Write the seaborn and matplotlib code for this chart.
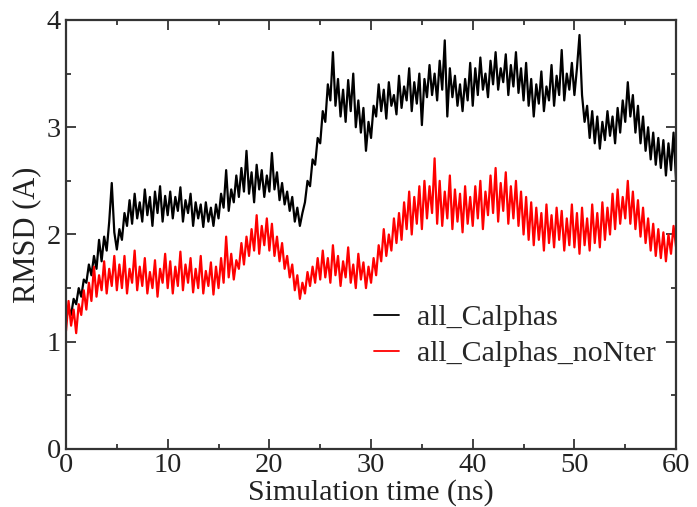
import numpy as np
import pandas as pd
import matplotlib
matplotlib.use("Agg")
import matplotlib.pyplot as plt
import seaborn as sns
from matplotlib.ticker import MultipleLocator

# time axis (ns), one reading every 0.25 ns
time_ns = [i * 0.25 for i in range(241)]

all_calphas = [
    1.20, 1.32, 1.25, 1.40, 1.35, 1.50, 1.42, 1.58, 1.55, 1.72, 1.62, 1.80, 1.68, 1.95, 1.75, 1.98, 1.85, 2.12, 2.48, 2.02,
    1.86, 2.05, 1.95, 2.20, 2.08, 2.32, 2.10, 2.38, 2.15, 2.30, 2.12, 2.42, 2.18, 2.35, 2.08, 2.40, 2.20, 2.45, 2.12, 2.36,
    2.18, 2.40, 2.15, 2.35, 2.22, 2.44, 2.12, 2.32, 2.20, 2.38, 2.08, 2.30, 2.15, 2.28, 2.07, 2.30, 2.12, 2.25, 2.08, 2.28,
    2.15, 2.38, 2.25, 2.60, 2.22, 2.42, 2.30, 2.55, 2.35, 2.62, 2.40, 2.78, 2.38, 2.58, 2.30, 2.65, 2.42, 2.60, 2.35, 2.55,
    2.40, 2.76, 2.42, 2.58, 2.32, 2.48, 2.28, 2.40, 2.22, 2.35, 2.12, 2.25, 2.08, 2.20, 2.30, 2.50, 2.45, 2.70, 2.65, 2.90,
    2.85, 3.15, 3.05, 3.40, 3.25, 3.70, 3.20, 3.45, 3.10, 3.35, 3.05, 3.44, 3.15, 3.50, 3.00, 3.25, 2.95, 3.18, 2.78, 3.05,
    2.90, 3.20, 3.10, 3.40, 3.15, 3.35, 3.08, 3.42, 3.20, 3.30, 3.12, 3.48, 3.18, 3.38, 3.25, 3.55, 3.15, 3.42, 3.22, 3.50,
    3.02, 3.45, 3.28, 3.58, 3.30, 3.50, 3.25, 3.62, 3.35, 3.81, 3.10, 3.55, 3.28, 3.48, 3.20, 3.40, 3.15, 3.45, 3.25, 3.60,
    3.20, 3.55, 3.30, 3.65, 3.35, 3.50, 3.28, 3.62, 3.40, 3.70, 3.35, 3.55, 3.42, 3.68, 3.30, 3.58, 3.38, 3.70, 3.32, 3.55,
    3.25, 3.60, 3.20, 3.45, 3.10, 3.40, 3.22, 3.52, 3.15, 3.38, 3.25, 3.58, 3.20, 3.48, 3.30, 3.72, 3.25, 3.50, 3.35, 3.60,
    3.30, 3.55, 3.86, 3.30, 3.05, 3.20, 2.90, 3.15, 2.85, 3.10, 2.80, 3.05, 2.88, 3.15, 2.92, 3.10, 2.85, 3.18, 2.95, 3.25,
    3.05, 3.42, 3.10, 3.30, 2.95, 3.20, 2.85, 3.10, 2.78, 3.00, 2.70, 2.95, 2.65, 2.90, 2.62, 2.88, 2.55, 2.85, 2.60, 2.95,
    2.50,
]

all_calphas_nonter = [
    1.10, 1.38, 1.15, 1.30, 1.08, 1.35, 1.25, 1.48, 1.30, 1.55, 1.38, 1.70, 1.42, 1.62, 1.48, 1.75, 1.45, 1.68, 1.52, 1.80,
    1.48, 1.72, 1.50, 1.80, 1.45, 1.68, 1.55, 1.85, 1.48, 1.70, 1.52, 1.78, 1.45, 1.65, 1.50, 1.76, 1.42, 1.68, 1.55, 1.82,
    1.50, 1.75, 1.45, 1.70, 1.52, 1.84, 1.48, 1.72, 1.55, 1.78, 1.46, 1.68, 1.50, 1.80, 1.45, 1.66, 1.52, 1.74, 1.44, 1.70,
    1.50, 1.78, 1.55, 1.98, 1.60, 1.82, 1.58, 1.76, 1.68, 1.92, 1.72, 1.98, 1.80, 2.05, 1.85, 2.18, 1.82, 2.08, 1.90, 2.15,
    1.85, 2.10, 1.80, 1.98, 1.75, 1.92, 1.68, 1.80, 1.60, 1.72, 1.48, 1.62, 1.40, 1.55, 1.45, 1.65, 1.52, 1.70, 1.55, 1.78,
    1.58, 1.85, 1.60, 1.78, 1.55, 1.90, 1.62, 1.80, 1.52, 1.75, 1.60, 1.88, 1.55, 1.72, 1.50, 1.82, 1.58, 1.74, 1.50, 1.70,
    1.55, 1.78, 1.62, 1.90, 1.75, 2.05, 1.80, 2.00, 1.85, 2.15, 1.92, 2.20, 1.95, 2.30, 2.05, 2.40, 2.00, 2.35, 2.10, 2.45,
    2.05, 2.50, 2.15, 2.45, 2.20, 2.71, 2.10, 2.50, 2.08, 2.40, 2.15, 2.55, 2.05, 2.42, 2.12, 2.38, 2.02, 2.45, 2.10, 2.35,
    2.08, 2.45, 2.15, 2.50, 2.05, 2.40, 2.18, 2.55, 2.20, 2.62, 2.12, 2.48, 2.22, 2.58, 2.10, 2.45, 2.15, 2.50, 2.08, 2.40,
    2.00, 2.35, 1.95, 2.30, 1.90, 2.25, 1.95, 2.20, 1.85, 2.28, 1.92, 2.18, 1.88, 2.25, 1.95, 2.22, 1.85, 2.15, 1.90, 2.28,
    1.88, 2.20, 1.82, 2.25, 1.90, 2.15, 1.85, 2.28, 1.92, 2.20, 1.88, 2.30, 1.95, 2.25, 2.00, 2.38, 2.05, 2.42, 2.10, 2.35,
    2.15, 2.50, 2.10, 2.40, 2.05, 2.32, 1.98, 2.25, 1.92, 2.15, 1.85, 2.10, 1.80, 2.05, 1.78, 2.02, 1.75, 2.00, 1.82, 2.08,
    1.88,
]

series_names = ["all_Calphas", "all_Calphas_noNter"]
series_colors = ["#000000", "#ff0000"]
x_ticks = [0, 10, 20, 30, 40, 50, 60]
y_ticks = [0, 1, 2, 3, 4]

df = pd.concat([
    pd.DataFrame({"time": time_ns, "rmsd": all_calphas, "series": series_names[0]}),
    pd.DataFrame({"time": time_ns, "rmsd": all_calphas_nonter, "series": series_names[1]}),
], ignore_index=True)

sns.set_style("white")
plt.rcParams["font.family"] = ["Liberation Serif", "DejaVu Serif"]

fig = plt.figure(figsize=(6.97, 5.07), dpi=100)
ax = fig.add_axes([0.0947, 0.1144, 0.8753, 0.8462])

sns.lineplot(data=df, x="time", y="rmsd", hue="series", hue_order=series_names,
             palette=series_colors, estimator=None, sort=False, linewidth=1.6, ax=ax)

ax.set_xlim(0, 60)
ax.set_ylim(0, 4)
ax.set_xticks(x_ticks)
ax.set_yticks(y_ticks)
ax.xaxis.set_minor_locator(MultipleLocator(5))
ax.yaxis.set_minor_locator(MultipleLocator(0.5))
ax.tick_params(which="both", direction="in", top=True, right=True,
               bottom=True, left=True, width=1.3, colors="#333333",
               labelcolor="#222222", labelsize=20.5)
ax.tick_params(axis="x", pad=3)
ax.tick_params(which="major", length=7)
ax.tick_params(which="minor", length=3.5)
for s in ax.spines.values():
    s.set_linewidth(1.6)
    s.set_color("#333333")

ax.set_xlabel("Simulation time (ns)", fontsize=21.5, labelpad=1, color="#222222")
ax.set_ylabel("RMSD (A)", fontsize=22, labelpad=4, color="#222222")

leg = ax.legend(frameon=False, loc="upper left", bbox_to_anchor=(0.485, 0.365),
                handlelength=0.85, handletextpad=0.6, fontsize=21.5,
                labelspacing=0.3, borderaxespad=0)
for ln in leg.get_lines():
    ln.set_linewidth(1.3)

fig.savefig("out.png", dpi=100)
